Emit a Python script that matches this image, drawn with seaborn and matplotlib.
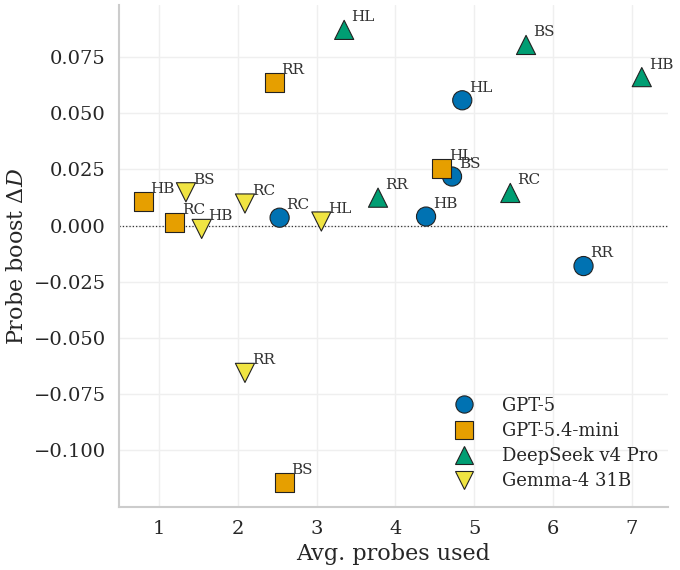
import matplotlib
matplotlib.use("Agg")
import matplotlib.pyplot as plt
import seaborn as sns
import pandas as pd

# data
models = ["GPT-5", "GPT-5.4-mini", "DeepSeek v4 Pro", "Gemma-4 31B"]
conditions = ["HL", "BS", "HB", "RC", "RR"]

gpt5_x = [4.85, 4.72, 4.39, 2.53, 6.39]
gpt5_y = [0.0557, 0.0218, 0.0040, 0.0035, -0.0180]

mini_x = [4.59, 2.59, 0.80, 1.20, 2.46]
mini_y = [0.0252, -0.1142, 0.0107, 0.0012, 0.0636]

deepseek_x = [3.35, 5.66, 7.13, 5.46, 3.78]
deepseek_y = [0.0870, 0.0803, 0.0660, 0.0145, 0.0124]

gemma_x = [3.06, 1.34, 1.54, 2.09, 2.09]
gemma_y = [0.0018, 0.0148, -0.0015, 0.0098, -0.0655]

colors = ["#0072B2", "#E69F00", "#009E73", "#F0E442"]
markers = ["o", "s", "^", "v"]

rows = []
for m, xs, ys in zip(models,
                     [gpt5_x, mini_x, deepseek_x, gemma_x],
                     [gpt5_y, mini_y, deepseek_y, gemma_y]):
    for c, xv, yv in zip(conditions, xs, ys):
        rows.append({"model": m, "cond": c, "x": xv, "y": yv})
df = pd.DataFrame(rows)

sns.set_theme(style="whitegrid")
plt.rcParams["font.family"] = ["DejaVu Serif"]
plt.rcParams["mathtext.fontset"] = "dejavuserif"
plt.rcParams["grid.color"] = "#efefef"

fig, ax = plt.subplots(figsize=(6.8, 5.7), dpi=100)

sns.scatterplot(data=df, x="x", y="y", hue="model", style="model",
                hue_order=models, style_order=models,
                palette=dict(zip(models, colors)),
                markers=dict(zip(models, markers)),
                s=190, edgecolor="#222222", linewidth=0.8, ax=ax, zorder=3)

# point labels
for _, r in df.iterrows():
    ax.annotate(r["cond"], (r["x"], r["y"]), xytext=(5, 4),
                textcoords="offset points", fontsize=11, color="#333333",
                ha="left", va="bottom", zorder=4)

ax.axhline(0, color="#333333", linestyle=":", linewidth=0.9, zorder=1)

ax.set_xlim(0.49, 7.46)
ax.set_ylim(-0.125, 0.098)
ax.set_xticks([1, 2, 3, 4, 5, 6, 7])
ax.set_yticks([-0.100, -0.075, -0.050, -0.025, 0.000, 0.025, 0.050, 0.075])
ax.tick_params(labelsize=14)
ax.set_xlabel("Avg. probes used", fontsize=16)
ax.set_ylabel(r"Probe boost $\Delta D$", fontsize=16)

sns.despine(ax=ax)
for sp in ["left", "bottom"]:
    ax.spines[sp].set_color("#cccccc")
    ax.spines[sp].set_linewidth(1.5)

leg = ax.legend(loc="lower right", bbox_to_anchor=(1.012, 0.0), frameon=False,
                fontsize=13, markerscale=0.9, handletextpad=1.1, labelspacing=0.4)
leg.set_title(None)

fig.subplots_adjust(left=0.175, right=0.982, top=0.991, bottom=0.111)
fig.savefig("out.png", dpi=100)
